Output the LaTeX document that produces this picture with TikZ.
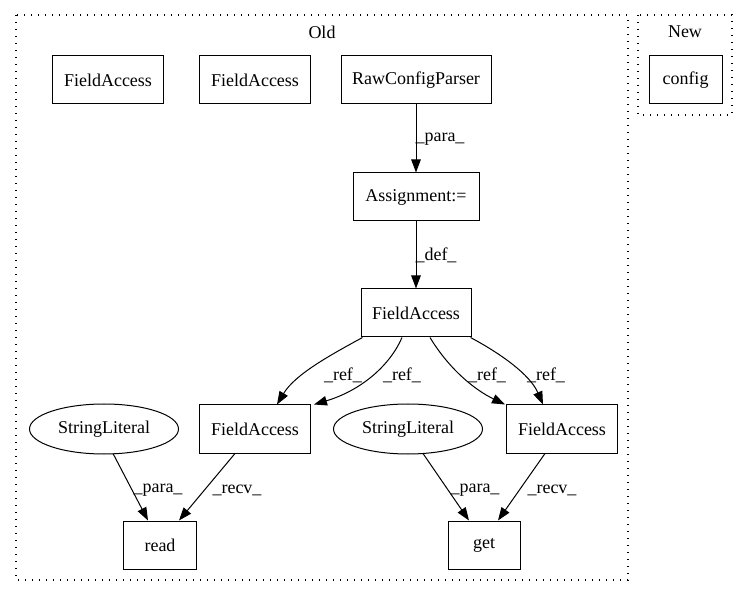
\documentclass[tikz,border=0pt]{standalone}
\usepackage{fontspec}
\setmainfont{Liberation Serif}
\usetikzlibrary{arrows.meta,shapes.geometric}
\begin{document}
\begin{tikzpicture}[x=1pt,y=-1pt,
  every node/.style={font=\fontsize{18}{20}\selectfont},
  box/.style={draw,line width=1pt,rectangle,inner sep=0pt,minimum height=48pt},
  ell/.style={draw,line width=1pt,ellipse,inner sep=0pt,minimum width=149pt,minimum height=50pt},
  cluster/.style={draw,line width=1.2pt,dash pattern=on 1.4pt off 5.6pt},
  edge/.style={draw,line width=1pt,-{Triangle[length=13pt,width=9.5pt]}},
  lbl/.style={inner sep=0pt}]
\useasboundingbox (0,0) rectangle (748,596);
% clusters
\draw[cluster] (16,15) rectangle (628,580);
\node[lbl] (oldlbl) at (322,32) {Old};
\draw[cluster] (638,15) rectangle (732,115);
\node[lbl] (newlbl) at (685,32) {New};
% nodes
\node[box,minimum width=111pt] (fa1) at (108,80) {FieldAccess};
\node[box,minimum width=111pt] (fa2) at (255,80) {FieldAccess};
\node[box,minimum width=150pt] (rcp) at (416,80) {RawConfigParser};
\node[box,minimum width=73pt] (cfg) at (685.5,80) {config};
\node[box,minimum width=126pt] (asg) at (416,197) {Assignment:=};
\node[box,minimum width=110pt] (fam) at (416,313) {FieldAccess};
\node[box,minimum width=111pt] (fal) at (255,429) {FieldAccess};
\node[box,minimum width=111pt] (far) at (562,429) {FieldAccess};
\node[ell] (sl1) at (104,429) {StringLiteral};
\node[ell] (sl2) at (408,429) {StringLiteral};
\node[box,minimum width=73pt] (read) at (160,545) {read};
\node[box,minimum width=72pt] (get) at (484,545) {get};
% edges
\draw[edge] (rcp) -- (asg);
\node[lbl] (l1) at (440,139) {\_para\_};
\draw[edge] (asg) -- (fam);
\node[lbl] (l2) at (436,255) {\_def\_};
\draw[edge] ([xshift=2pt]fam.south west) .. controls ([xshift=-31pt,yshift=-18pt]fam.south west) and ([xshift=40pt,yshift=30pt]fal.north) .. ([xshift=22pt]fal.north);
\node[lbl] (l3) at (343,375) {\_ref\_};
\draw[edge] ([xshift=-14pt]fam.south) .. controls ([xshift=-26pt,yshift=-28pt]fam.south) and ([xshift=50pt,yshift=14pt]fal.north east) .. ([xshift=3pt]fal.north east);
\node[lbl] (l4) at (402,375) {\_ref\_};
\draw[edge] ([xshift=14pt]fam.south) .. controls ([xshift=34pt,yshift=-33pt]fam.south) and ([xshift=-30pt,yshift=14pt]far.north west) .. ([xshift=-1pt]far.north west);
\node[lbl] (l5) at (487,375) {\_ref\_};
\draw[edge] ([xshift=-1pt]fam.south east) .. controls ([xshift=29pt,yshift=-16pt]fam.south east) and ([xshift=-32pt,yshift=30pt]far.north) .. ([xshift=-19pt]far.north);
\node[lbl] (l6) at (546,375) {\_ref\_};
\draw[edge] ([xshift=9pt,yshift=1pt]sl1.south) -- ([xshift=-12pt]read.north);
\node[lbl] (l7) at (158,490) {\_para\_};
\draw[edge] ([xshift=-20pt]fal.south) -- ([xshift=19pt]read.north);
\node[lbl] (l8) at (237,490) {\_recv\_};
\draw[edge] ([xshift=15pt,yshift=1pt]sl2.south) -- ([xshift=-15pt]get.north);
\node[lbl] (l9) at (475,490) {\_para\_};
\draw[edge] ([xshift=-17pt]far.south) -- ([xshift=14pt]get.north);
\node[lbl] (l10) at (552,490) {\_recv\_};
\end{tikzpicture}
\end{document}
